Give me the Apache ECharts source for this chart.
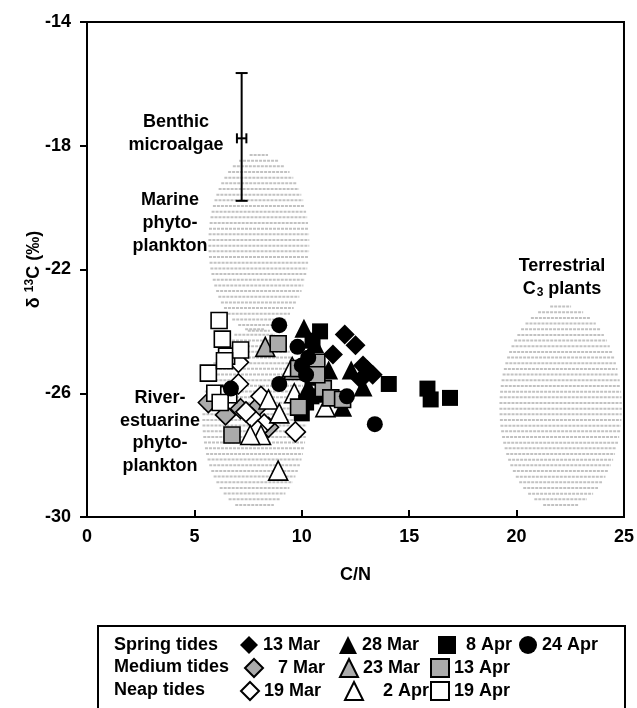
<!DOCTYPE html>
<html><head><meta charset="utf-8">
<script src="https://cdn.jsdelivr.net/npm/echarts@6/dist/echarts.min.js"></script>
<style>html,body{margin:0;padding:0;background:#fff}#c{width:637px;height:708px}</style>
</head><body><div id="c"></div>
<script>
// ---- data ----
const xTickLabels = [0, 5, 10, 15, 20, 25];
const yTickLabels = [-30, -26, -22, -18, -14];

const d7Mar  = [[5.65,-26.3],[6.45,-26.7],[7.15,-26.5],[8.0,-26.4],[8.45,-27.1]];
const d13Mar = [[12.0,-24.1],[12.5,-24.45],[11.45,-24.75],[12.85,-25.1],[13.3,-25.4],[12.75,-25.55],[13.05,-25.25]];
const d19Mar = [[7.05,-25.0],[7.05,-25.7],[8.1,-26.1],[7.7,-26.8],[8.25,-27.0],[7.95,-27.2],[9.7,-27.25],[7.4,-26.6]];
const d23Mar = [[8.3,-24.5],[9.6,-25.25]];
const d28Mar = [[10.1,-23.9],[11.25,-25.25],[12.3,-25.25],[12.85,-25.8],[11.9,-26.45],[10.3,-25.8],[10.6,-24.4],[10.8,-26.0]];
const d2Apr  = [[8.1,-27.35],[7.6,-27.35],[8.45,-26.2],[8.95,-26.65],[9.65,-26.0],[11.1,-26.45],[8.9,-28.5],[9.55,-25.15]];
const d8Apr  = [[10.85,-24.0],[14.05,-25.7],[15.85,-25.85],[16.0,-26.2],[16.9,-26.15],[10.0,-26.65],[10.2,-26.3],[10.5,-24.3],[10.5,-25.5],[10.45,-26.1]];
const d13Apr = [[8.9,-24.4],[6.75,-27.35],[10.7,-25.0],[9.85,-25.2],[11.0,-25.85],[11.35,-26.15],[11.9,-26.2],[9.85,-26.45],[10.7,-25.4]];
const d19Apr = [[6.15,-23.65],[6.3,-24.25],[6.5,-24.8],[7.15,-24.6],[5.65,-25.35],[5.95,-26.0],[6.6,-26.05],[6.2,-26.3],[6.4,-24.95]];
const d24Apr = [[8.95,-23.8],[9.8,-24.5],[10.3,-24.85],[10.0,-25.1],[8.95,-25.7],[6.7,-25.85],[12.1,-26.1],[13.4,-27.0],[10.2,-25.4]];

// source regions: centre C/N, centre d13C, half-width C/N, half-height d13C
const sourceEllipses = [[8.0,-21.15,2.35,2.9],[7.8,-26.85,2.43,2.97],[22.05,-26.45,2.85,3.3]];
// benthic microalgae: C/N, d13C, d13C low, d13C high, C/N low, C/N high
const benthicBar = [[7.2,-17.76,-19.78,-15.65,6.98,7.42]];

// ---- chart ----
const FONT = 'Liberation Sans, Arial, sans-serif';
const BLACK = {color:'#000', borderWidth:0, opacity:1};
const GRAY = {color:'#ababab', borderColor:'#000', borderWidth:1.6, opacity:1};
const WHITE = {color:'#fff', borderColor:'#000', borderWidth:1.6, opacity:1};
const SZ = {diamond:20, triangle:19, rect:16, circle:16};

function sc(name, data, symbol, style){
  return {type:'scatter', name, data, symbol, symbolSize:SZ[symbol], itemStyle:style, z:5, silent:true};
}

const series = [
  {type:'custom', name:'sources', data:sourceEllipses, z:1, silent:true,
   renderItem(params, api){
     const c = api.coord([api.value(0), api.value(1)]);
     const s = api.size([api.value(2), api.value(3)]);
     const rx = s[0], ry = s[1];
     const children = [];
     const step = 5.67;
     for (let dy = -ry + 1.5; dy <= ry - 1; dy += step){
       const hw = rx*Math.sqrt(Math.max(0, 1-(dy/ry)*(dy/ry)));
       if (hw < 3) continue;
       children.push({type:'line', shape:{x1:c[0]-hw, y1:c[1]+dy, x2:c[0]+hw, y2:c[1]+dy},
         style:{stroke:'#c2c2c2', lineWidth:2, lineDash:[3,1]}});
     }
     return {type:'group', children};
   }},
  {type:'custom', name:'benthic', data:benthicBar, z:3, silent:true,
   renderItem(params, api){
     const x = api.value(0), y = api.value(1);
     const lo = api.coord([x, api.value(2)]), hi = api.coord([x, api.value(3)]);
     const xl = api.coord([api.value(4), y]), xh = api.coord([api.value(5), y]);
     const st = {stroke:'#000', lineWidth:2};
     const cap = 6, hc = 5;
     return {type:'group', children:[
       {type:'line', shape:{x1:lo[0],y1:lo[1],x2:hi[0],y2:hi[1]}, style:st},
       {type:'line', shape:{x1:lo[0]-cap,y1:lo[1],x2:lo[0]+cap,y2:lo[1]}, style:st},
       {type:'line', shape:{x1:hi[0]-cap,y1:hi[1],x2:hi[0]+cap,y2:hi[1]}, style:st},
       {type:'line', shape:{x1:xl[0],y1:xl[1],x2:xh[0],y2:xh[1]}, style:st},
       {type:'line', shape:{x1:xl[0],y1:xl[1]-hc,x2:xl[0],y2:xl[1]+hc}, style:st},
       {type:'line', shape:{x1:xh[0],y1:xh[1]-hc,x2:xh[0],y2:xh[1]+hc}, style:st}
     ]};
   }},
  sc('7 Mar', d7Mar, 'diamond', GRAY),
  sc('13 Mar', d13Mar, 'diamond', BLACK),
  sc('19 Mar', d19Mar, 'diamond', WHITE),
  sc('23 Mar', d23Mar, 'triangle', GRAY),
  sc('28 Mar', d28Mar, 'triangle', BLACK),
  sc('2 Apr', d2Apr, 'triangle', WHITE),
  sc('8 Apr', d8Apr, 'rect', BLACK),
  sc('13 Apr', d13Apr, 'rect', GRAY),
  sc('19 Apr', d19Apr, 'rect', WHITE),
  sc('24 Apr', d24Apr, 'circle', BLACK)
];

const LT = {fontSize:18, fontWeight:'bold', color:'#000', fontFamily:FONT};
const rowY = [645, 667, 690];
// legend cells: name, icon, row, text start x, prefix spaces
const cells = [
  ['13 Mar','diamond',0,262,''],['28 Mar','triangle',0,361,''],['8 Apr','rect',0,460,' '],['24 Apr','circle',0,541,''],
  ['7 Mar','diamond',1,266,'  '],['23 Mar','triangle',1,361,''],['13 Apr','rect',1,452,''],
  ['19 Mar','diamond',2,262,''],['2 Apr','triangle',2,366,'   '],['19 Apr','rect',2,452,'']
];
const legends = cells.map(c => ({
  left: c[3]-22, top: rowY[c[2]]-9, padding:0, itemWidth:18, itemHeight:18, selectedMode:false,
  data:[{name:c[0], icon:c[1]}],
  formatter: n => c[4] + n,
  textStyle: LT
}));

const txt = (x, y, t, align) => ({type:'text', x, y, z:10, style:{text:t, x:0, y:0, align:align||'center', verticalAlign:'middle', font:'bold 18px '+FONT, fill:'#000'}});

const graphic = [
  txt(176,122,'Benthic'), txt(176,145,'microalgae'),
  txt(170,200,'Marine'), txt(170,223,'phyto-'), txt(170,246,'plankton'),
  txt(160,398,'River-'), txt(160,421,'estuarine'), txt(160,443,'phyto-'), txt(160,466,'plankton'),
  txt(562,266,'Terrestrial'),
  {type:'text', x:562, y:289, z:10, style:{text:'{a|C}{s|3}{a| plants}', align:'center', verticalAlign:'middle',
    rich:{a:{fontSize:18, fontWeight:'bold', fontFamily:FONT, fill:'#000', color:'#000'},
          s:{fontSize:12, fontWeight:'bold', fontFamily:FONT, fill:'#000', color:'#000', padding:[8,0,0,1]}}}},
  txt(114,rowY[0],'Spring tides','left'), txt(114,rowY[1],'Medium tides','left'), txt(114,rowY[2],'Neap tides','left'),
  {type:'rect', shape:{x:98, y:626, width:527, height:100}, style:{fill:'none', stroke:'#000', lineWidth:2}, z:10}
];

const chart = echarts.init(document.getElementById('c'), null, {renderer:'canvas'});
chart.setOption({
  animation:false,
  backgroundColor:'#fff',
  grid:{left:87, right:10, top:22, bottom:191, show:true, borderColor:'#000', borderWidth:2, backgroundColor:'transparent'},
  xAxis:{type:'value', min:xTickLabels[0], max:xTickLabels[xTickLabels.length-1], interval:5,
    axisLine:{lineStyle:{color:'#000', width:2}}, axisTick:{inside:true, length:7, lineStyle:{color:'#000', width:2}},
    splitLine:{show:false}, axisLabel:{...LT, margin:11},
    name:'C/N', nameLocation:'middle', nameGap:49, nameTextStyle:LT},
  yAxis:{type:'value', min:yTickLabels[0], max:yTickLabels[yTickLabels.length-1], interval:4,
    axisLine:{lineStyle:{color:'#000', width:2}}, axisTick:{inside:false, length:7, lineStyle:{color:'#000', width:2}},
    splitLine:{show:false}, axisLabel:{...LT, margin:16},
    name:'{a|δ }{s|13}{a|C (‰)}', nameLocation:'middle', nameGap:43, nameMoveOverlap:false,
    nameTextStyle:{rich:{a:{...LT}, s:{fontSize:12, fontWeight:'bold', fontFamily:FONT, color:'#000', padding:[0,0,8,0]}}}},
  legend:legends,
  graphic,
  series
});
</script></body></html>
